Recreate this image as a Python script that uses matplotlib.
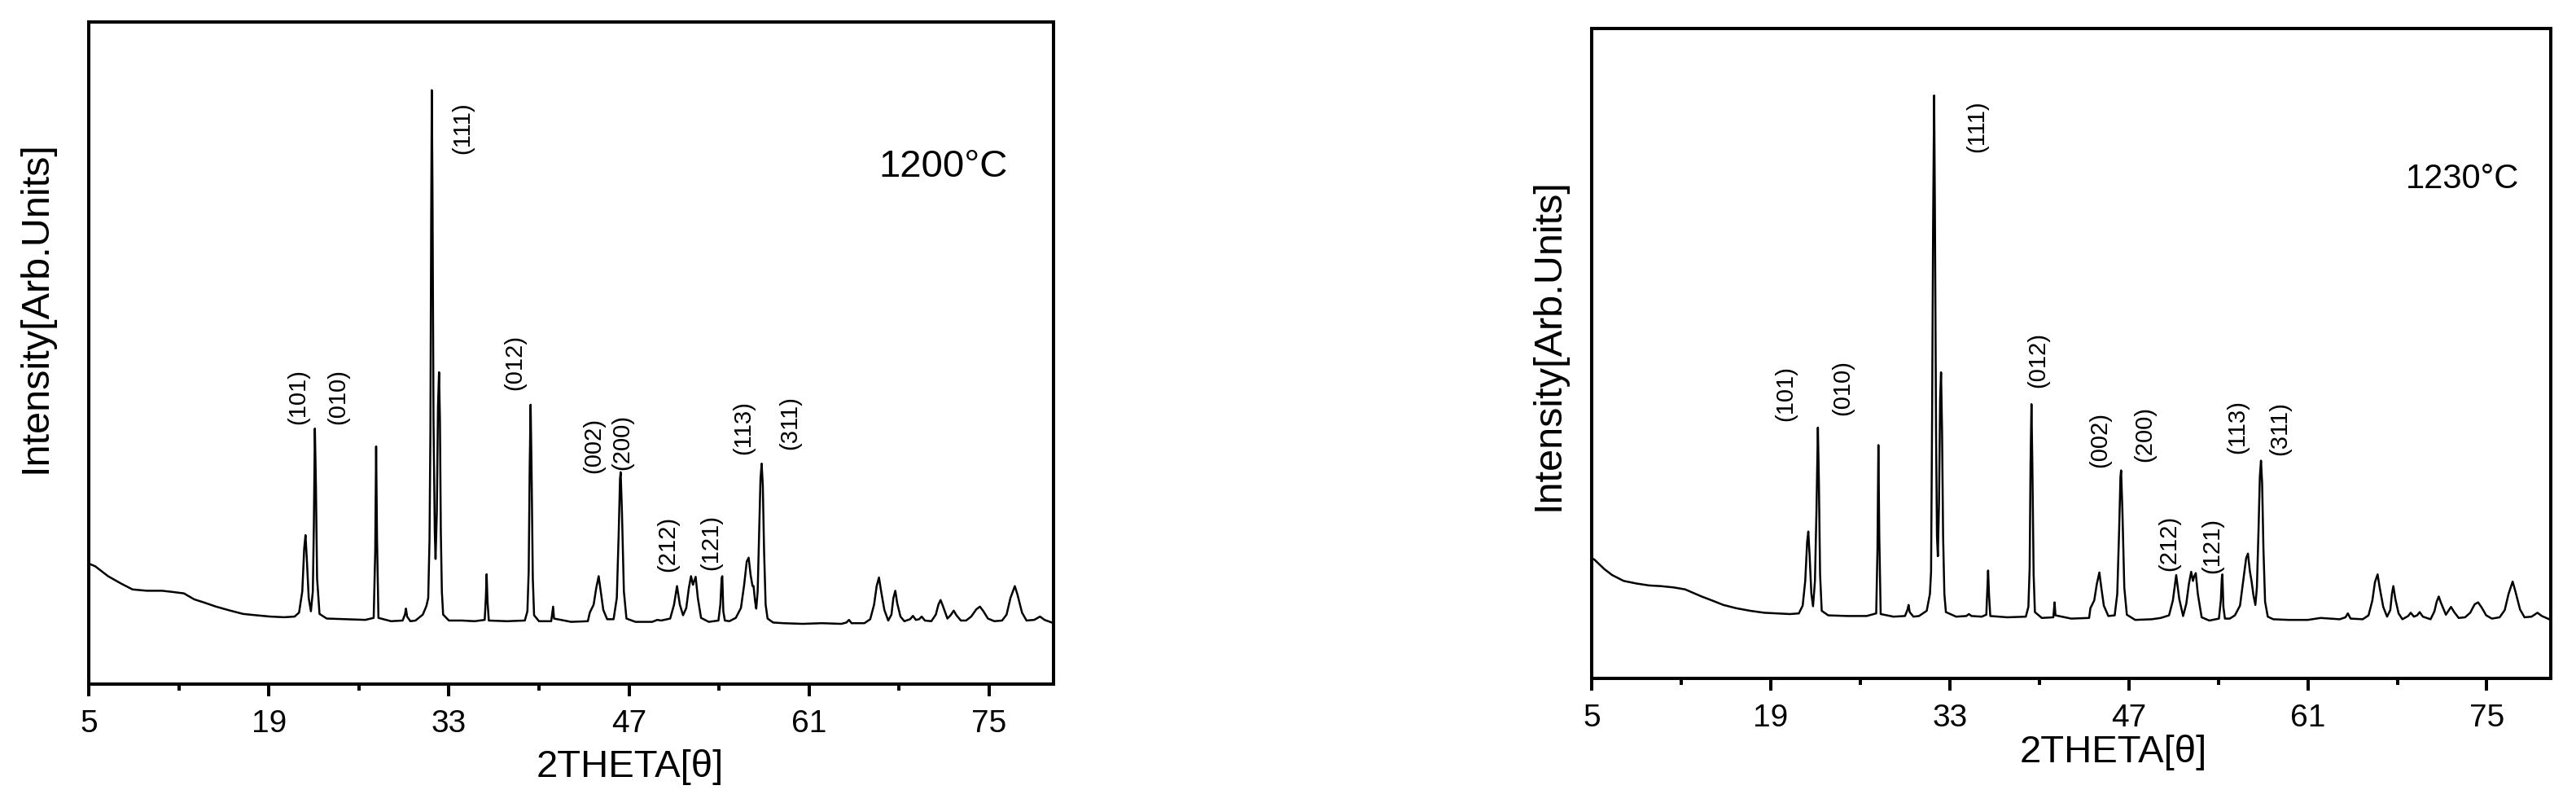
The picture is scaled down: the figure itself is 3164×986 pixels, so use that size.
import matplotlib
matplotlib.use('Agg')
import matplotlib.pyplot as plt

plt.rcParams['font.family'] = ['Liberation Sans', 'DejaVu Sans']

# XRD pattern 1200 C, (2theta, intensity), arbitrary units
left_pts = [
    (5.0, 182), (5.5, 178), (6.5, 163), (7.5, 152), (8.4, 143), (9.5, 141), (10.7, 141),
    (11.6, 139), (12.4, 137), (13.2, 128), (14.0, 123), (14.9, 117), (16.0, 111), (17.0, 106),
    (18.0, 104), (19.1, 102), (20.2, 101), (21.0, 102), (21.35, 108), (21.6, 140), (21.75, 205),
    (21.85, 225), (21.95, 190), (22.1, 130), (22.27, 110), (22.42, 140), (22.5, 240), (22.58, 386),
    (22.66, 300), (22.75, 160), (22.94, 106), (23.5, 99), (25.0, 98), (26.5, 97), (27.15, 100),
    (27.27, 200), (27.34, 359), (27.41, 220), (27.52, 100), (28.5, 95), (29.4, 96), (29.58, 105),
    (29.66, 114), (29.75, 102), (30.0, 95), (30.4, 96), (30.97, 105), (31.25, 118), (31.39, 130),
    (31.49, 217), (31.56, 380), (31.62, 700), (31.67, 897), (31.72, 750), (31.8, 400), (31.9, 230),
    (31.96, 189), (32.06, 260), (32.15, 420), (32.23, 471), (32.3, 400), (32.37, 230), (32.45, 140),
    (32.55, 105), (33.0, 96), (34.0, 96), (35.0, 95), (35.78, 97), (35.87, 130), (35.93, 166),
    (36.0, 125), (36.1, 96), (37.5, 95), (38.9, 96), (39.1, 110), (39.2, 170), (39.28, 330),
    (39.35, 422), (39.42, 330), (39.52, 160), (39.62, 104), (40.0, 95), (40.95, 95), (41.05, 110),
    (41.1, 117), (41.17, 99), (42.5, 94), (43.8, 95), (43.95, 108), (44.05, 112), (44.25, 120),
    (44.45, 145), (44.64, 163), (44.8, 140), (45.0, 112), (45.3, 98), (45.8, 98), (46.05, 130),
    (46.2, 230), (46.3, 310), (46.35, 320), (46.45, 260), (46.6, 140), (46.8, 99), (47.5, 94),
    (48.8, 94), (49.2, 97), (49.5, 96), (50.2, 99), (50.5, 120), (50.73, 148), (50.95, 120),
    (51.2, 104), (51.45, 115), (51.65, 145), (51.82, 163), (51.97, 150), (52.05, 155), (52.18, 162),
    (52.35, 130), (52.6, 100), (53.2, 94), (53.95, 96), (54.1, 120), (54.2, 160), (54.25, 163),
    (54.33, 110), (54.45, 96), (54.8, 95), (55.3, 100), (55.7, 115), (55.95, 150), (56.15, 185),
    (56.3, 191), (56.45, 165), (56.6, 148), (56.68, 148), (56.8, 125), (56.89, 114), (57.0, 140),
    (57.12, 230), (57.22, 310), (57.31, 333), (57.4, 300), (57.5, 200), (57.62, 120), (57.77, 99),
    (58.2, 93), (59.0, 92), (60.5, 91), (62.0, 92), (63.5, 91), (63.9, 93), (64.1, 97), (64.3, 92),
    (65.3, 92), (65.75, 98), (66.05, 120), (66.25, 148), (66.43, 161), (66.6, 140), (66.85, 112),
    (67.15, 96), (67.4, 105), (67.55, 130), (67.7, 141), (67.85, 122), (68.1, 102), (68.4, 95),
    (68.85, 98), (69.07, 103), (69.3, 97), (69.55, 98), (69.75, 102), (70.0, 96), (70.5, 95),
    (70.85, 105), (71.05, 120), (71.22, 127), (71.4, 118), (71.75, 99), (72.0, 104), (72.24, 111),
    (72.45, 104), (72.8, 96), (73.2, 96), (73.6, 102), (74.0, 113), (74.28, 117), (74.55, 110),
    (74.9, 99), (75.4, 95), (76.0, 96), (76.35, 105), (76.65, 130), (76.99, 148), (77.2, 135),
    (77.55, 108), (77.9, 96), (78.5, 97), (78.95, 102), (79.3, 97), (80.0, 92),
]

# XRD pattern 1230 C
right_pts = [
    (5.0, 185), (5.2, 183), (6.0, 168), (6.6, 159), (7.5, 150), (8.5, 146), (9.5, 143),
    (10.4, 142), (11.4, 140), (12.3, 137), (13.0, 131), (13.6, 126), (14.4, 120), (15.3, 113),
    (16.3, 108), (17.4, 104), (18.5, 101), (19.5, 100), (20.5, 99), (21.2, 100), (21.5, 112),
    (21.7, 150), (21.85, 210), (21.94, 226), (22.04, 190), (22.18, 130), (22.31, 111), (22.46, 150),
    (22.58, 260), (22.69, 386), (22.77, 300), (22.86, 160), (22.99, 104), (23.5, 97), (25.0, 96),
    (26.5, 96), (27.25, 100), (27.35, 200), (27.42, 359), (27.49, 220), (27.6, 99), (28.6, 95),
    (29.5, 96), (29.7, 106), (29.78, 113), (29.87, 102), (30.16, 95), (30.6, 96), (31.2, 104),
    (31.45, 130), (31.54, 164), (31.62, 400), (31.7, 700), (31.78, 897), (31.84, 720), (31.93, 380),
    (32.0, 220), (32.07, 188), (32.16, 270), (32.25, 430), (32.32, 471), (32.4, 380), (32.48, 220),
    (32.58, 130), (32.7, 102), (33.5, 95), (34.3, 96), (34.5, 99), (34.7, 96), (35.5, 95),
    (35.86, 98), (35.94, 135), (36.0, 166), (36.07, 130), (36.17, 96), (37.5, 94), (38.95, 95),
    (39.15, 110), (39.25, 170), (39.32, 330), (39.39, 422), (39.46, 330), (39.56, 160), (39.66, 102),
    (40.2, 93), (41.1, 94), (41.16, 108), (41.2, 117), (41.27, 97), (42.5, 92), (43.9, 93),
    (44.0, 108), (44.1, 112), (44.3, 120), (44.5, 145), (44.7, 163), (44.85, 140), (45.05, 112),
    (45.4, 96), (45.9, 97), (46.1, 130), (46.25, 230), (46.35, 310), (46.4, 320), (46.5, 260),
    (46.65, 140), (46.85, 98), (47.5, 90), (48.8, 91), (49.5, 93), (50.15, 97), (50.45, 120),
    (50.71, 159), (50.95, 122), (51.25, 96), (51.5, 115), (51.7, 145), (51.88, 164), (52.02, 150),
    (52.1, 156), (52.24, 162), (52.4, 130), (52.7, 94), (53.3, 89), (54.05, 92), (54.2, 120),
    (54.28, 155), (54.32, 160), (54.4, 110), (54.52, 92), (54.9, 92), (55.3, 97), (55.7, 112),
    (55.95, 150), (56.18, 185), (56.32, 192), (56.47, 165), (56.6, 150), (56.75, 128), (56.9, 113),
    (57.02, 140), (57.15, 230), (57.25, 310), (57.34, 335), (57.43, 300), (57.53, 200), (57.66, 118),
    (57.87, 95), (58.3, 91), (59.5, 90), (61.0, 90), (62.0, 93), (63.5, 91), (63.95, 94),
    (64.13, 100), (64.35, 92), (65.3, 91), (65.75, 97), (66.05, 120), (66.25, 148), (66.46, 160),
    (66.62, 140), (66.9, 110), (67.2, 95), (67.45, 105), (67.58, 130), (67.69, 142), (67.85, 122),
    (68.1, 100), (68.4, 91), (68.85, 96), (69.05, 101), (69.3, 95), (69.55, 97), (69.75, 102),
    (70.0, 95), (70.6, 91), (70.9, 103), (71.08, 118), (71.24, 126), (71.42, 116), (71.8, 98),
    (72.0, 104), (72.2, 110), (72.45, 102), (72.8, 93), (73.3, 94), (73.7, 101), (74.05, 114),
    (74.32, 117), (74.6, 109), (74.95, 97), (75.4, 92), (76.0, 94), (76.4, 105), (76.7, 130),
    (77.02, 149), (77.22, 135), (77.6, 106), (77.95, 94), (78.5, 95), (78.96, 101), (79.3, 96),
    (80.0, 90),
]

hkl = ['(101)', '(010)', '(111)', '(012)', '(002)', '(200)', '(212)', '(121)', '(113)', '(311)']
left_label_x = [21.26, 24.38, 34.07, 38.1, 44.27, 46.48, 50.0, 53.39, 55.92, 59.51]
left_label_y = [435, 435, 841, 487, 362, 367, 213, 215, 388, 396]
right_label_x = [20.18, 24.64, 35.11, 39.93, 44.77, 48.25, 50.16, 53.56, 55.53, 58.82]
right_label_y = [440, 449, 851, 491, 369, 377, 209, 205, 388, 386]

xticks = [5, 19, 33, 47, 61, 75]
minor_xticks = [12, 26, 40, 54, 68]

fig = plt.figure(figsize=(31.64, 9.87), dpi=100)
ax1 = fig.add_axes([0.03445, 0.14792, 0.37453, 0.82371])
ax2 = fig.add_axes([0.61789, 0.15502, 0.37231, 0.80851])

panels = [
    (ax1, left_pts, left_label_x, left_label_y, '1200°C', (71.4, 782), 34,
     (0.561, -0.124), (-0.0549, 0.571)),
    (ax2, right_pts, right_label_x, right_label_y, '1230°C', (73.1, 769), 30,
     (0.544, -0.113), (-0.045, 0.515)),
]

for ax, pts, lx, ly, temp, tpos, tsize, xl_pos, yl_pos in panels:
    tt, inten = zip(*pts)
    ax.plot(tt, inten, color='black', lw=1.8)

    for name, x, y in zip(hkl, lx, ly):
        ax.text(x, y, name, rotation=90, ha='center', va='center', fontsize=21)
    ax.text(tpos[0], tpos[1], temp, ha='center', va='center', fontsize=tsize)

    ax.set_xlim(5, 80)
    ax.set_ylim(0, 1000)
    ax.set_xticks(xticks)
    ax.set_xticks(minor_xticks, minor=True)
    ax.set_yticks([])
    ax.tick_params(axis='x', which='major', length=10.8, width=2.9, labelsize=28, pad=11)
    ax.tick_params(axis='x', which='minor', length=5.8, width=2.9)
    for s in ax.spines.values():
        s.set_linewidth(2.9)

    ax.set_xlabel('2THETA[θ]', fontsize=34)
    ax.xaxis.set_label_coords(*xl_pos)
    ax.xaxis.label.set_va('center')
    ax.set_ylabel('Intensity[Arb.Units]', fontsize=35)
    ax.yaxis.set_label_coords(*yl_pos)
    ax.yaxis.label.set_va('center')

fig.savefig('out.png', dpi=100)
